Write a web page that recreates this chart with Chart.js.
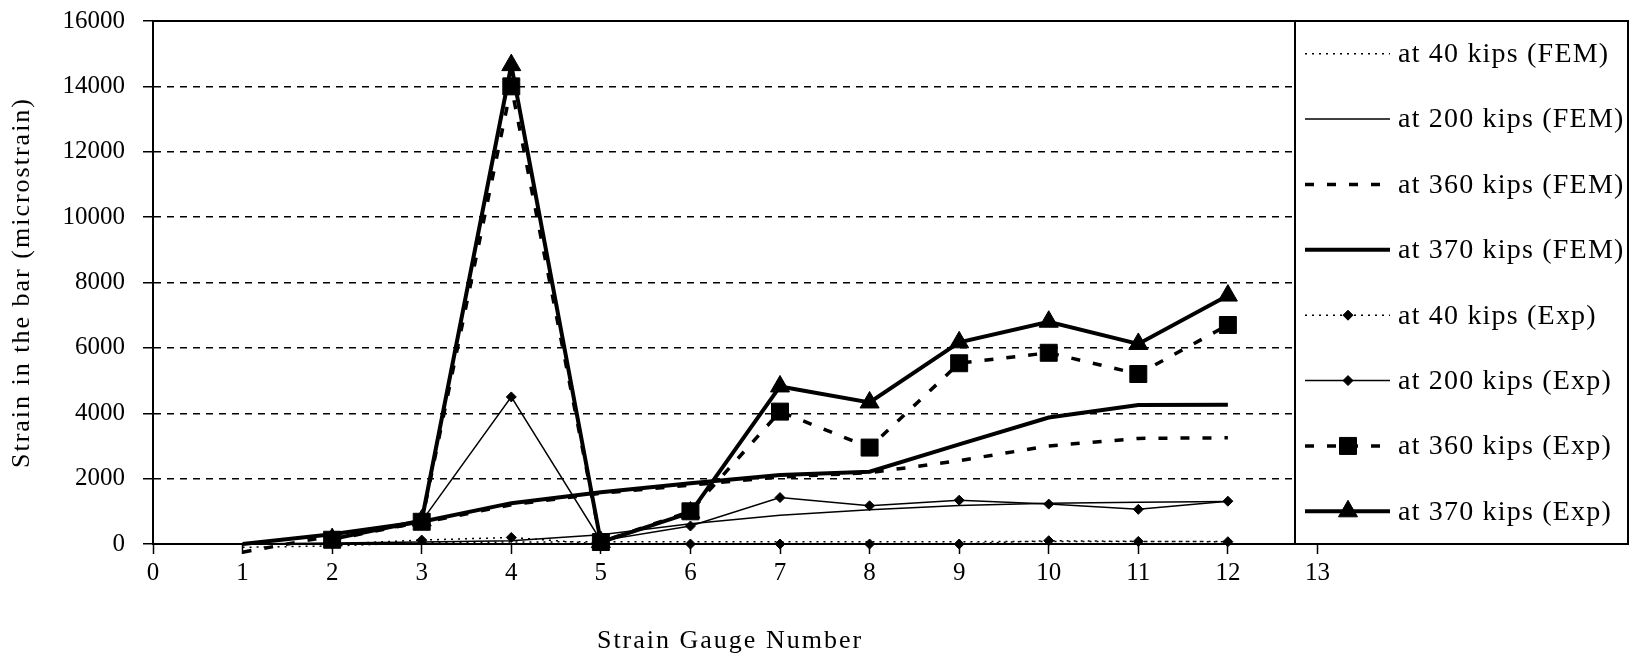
<!DOCTYPE html>
<html lang="en">
<head>
<meta charset="UTF-8">
<title>Strain in the bar</title>
<script src="https://cdn.jsdelivr.net/npm/chart.js"></script>
<style>
    body {
        margin: 0;
        background-color: #ffffff;
    }

    #chart-wrap {
        position: relative;
        width: 1635px;
        height: 657px;
    }
</style>
</head>
<body>
<div id="chart-wrap">
    <canvas id="strainChart"></canvas>
</div>

<script>
// gauge numbers (FEM has gauge 1, the test data starts at gauge 2)
const gaugesFem = [1, 2, 3, 4, 5, 6, 7, 8, 9, 10, 11, 12];
const gaugesExp = [2, 3, 4, 5, 6, 7, 8, 9, 10, 11, 12];

// strain in microstrain
const fem40  = [-100, -60, 40, 60, 70, 70, 70, 70, 70, 80, 80, 80];
const fem200 = [0, 30, 60, 100, 280, 620, 880, 1050, 1180, 1250, 1280, 1300];
const fem360 = [-250, 250, 650, 1200, 1550, 1800, 2050, 2180, 2550, 3000, 3230, 3250];
const fem370 = [0, 300, 680, 1250, 1580, 1860, 2110, 2210, 3050, 3870, 4250, 4260];

const exp40  = [0, 120, 200, 0, 0, 0, 0, 0, 100, 80, 70];
const exp200 = [150, 700, 4500, 100, 550, 1420, 1170, 1340, 1220, 1060, 1310];
const exp360 = [130, 680, 14000, 60, 1000, 4050, 2950, 5530, 5850, 5200, 6700];
const exp370 = [150, 720, 14650, 60, 960, 4820, 4330, 6170, 6800, 6120, 7600];

const seriesLabels = [
    'at 40 kips (FEM)', 'at 200 kips (FEM)', 'at 360 kips (FEM)', 'at 370 kips (FEM)',
    'at 40 kips (Exp)', 'at 200 kips (Exp)', 'at 360 kips (Exp)', 'at 370 kips (Exp)'
];

const xTickLabels = [0, 1, 2, 3, 4, 5, 6, 7, 8, 9, 10, 11, 12, 13];
const yTickValues = [0, 2000, 4000, 6000, 8000, 10000, 12000, 14000, 16000];

const xTitle = 'Strain Gauge Number';
const yTitle = 'Strain in the bar (microstrain)';

function pts(xs, ys) {
    return xs.map((x, i) => ({ x: x, y: ys[i] }));
}

function line(label, xs, ys, width, dash, style, radius) {
    return {
        label: label,
        data: pts(xs, ys),
        borderColor: '#000',
        backgroundColor: '#000',
        borderWidth: width,
        borderDash: dash,
        pointStyle: style || 'circle',
        pointRadius: radius || 0,
        pointBackgroundColor: '#000',
        pointBorderColor: '#000',
        pointBorderWidth: 1,
        tension: 0,
        clip: 12
    };
}

const serif = "'Liberation Serif', 'Times New Roman', serif";

// frame line on top, axis titles and the boxed legend on the right
const decorations = {
    id: 'decorations',
    beforeDatasetsDraw(chart) {
        const ctx = chart.ctx;
        const a = chart.chartArea;
        ctx.save();
        ctx.strokeStyle = '#000';
        ctx.lineWidth = 2;
        ctx.beginPath();
        ctx.moveTo(a.left, a.top);
        ctx.lineTo(a.right, a.top);
        ctx.stroke();
        ctx.restore();
    },
    afterDraw(chart) {
        const ctx = chart.ctx;
        const a = chart.chartArea;
        ctx.save();
        ctx.fillStyle = '#000';
        ctx.font = '26px ' + serif;
        ctx.letterSpacing = '2px';
        ctx.textAlign = 'center';
        ctx.textBaseline = 'middle';
        ctx.fillText(xTitle, 730, 641);

        ctx.save();
        ctx.translate(22, (a.top + a.bottom) / 2);
        ctx.rotate(-Math.PI / 2);
        ctx.fillText(yTitle, 0, 0);
        ctx.restore();

        // legend box
        const x0 = 1295, x1 = 1628;
        const y0 = a.top, y1 = a.bottom;
        ctx.fillStyle = '#fff';
        ctx.fillRect(x0, y0, x1 - x0, y1 - y0);
        ctx.strokeStyle = '#000';
        ctx.lineWidth = 2;
        ctx.strokeRect(x0, y0, x1 - x0, y1 - y0);

        const sets = chart.data.datasets;
        const step = (y1 - y0) / sets.length;
        ctx.textAlign = 'left';
        ctx.font = '28px ' + serif;
        ctx.letterSpacing = '1.2px';
        sets.forEach((ds, i) => {
            const cy = y0 + step * (i + 0.5);
            ctx.strokeStyle = '#000';
            ctx.fillStyle = '#000';
            ctx.lineWidth = ds.borderWidth;
            ctx.setLineDash(ds.borderDash || []);
            ctx.beginPath();
            ctx.moveTo(1305, cy);
            ctx.lineTo(1390, cy);
            ctx.stroke();
            ctx.setLineDash([]);
            if (ds.pointRadius > 0) {
                ctx.lineWidth = 1;
                Chart.helpers.drawPoint(ctx, {
                    pointStyle: ds.pointStyle,
                    radius: ds.pointRadius,
                    borderWidth: 1,
                    rotation: 0
                }, 1348, cy);
            }
            ctx.fillStyle = '#000';
            ctx.fillText(ds.label, 1398, cy + 1);
        });
        ctx.restore();
    }
};

const ctx = document.getElementById('strainChart').getContext('2d');
new Chart(ctx, {
    type: 'line',
    data: {
        datasets: [
            line(seriesLabels[0], gaugesFem, fem40, 1.5, [2, 5]),
            line(seriesLabels[1], gaugesFem, fem200, 1.5, []),
            line(seriesLabels[2], gaugesFem, fem360, 3.5, [9, 13]),
            line(seriesLabels[3], gaugesFem, fem370, 4, []),
            line(seriesLabels[4], gaugesExp, exp40, 1.5, [2, 5], 'rectRot', 5),
            line(seriesLabels[5], gaugesExp, exp200, 1.5, [], 'rectRot', 5),
            line(seriesLabels[6], gaugesExp, exp360, 3.5, [9, 13], 'rect', 12),
            line(seriesLabels[7], gaugesExp, exp370, 4, [], 'triangle', 11)
        ]
    },
    options: {
        responsive: true,
        maintainAspectRatio: false,
        animation: false,
        devicePixelRatio: 1,
        layout: { padding: { top: 21, right: 5, left: 0, bottom: 0 } },
        plugins: {
            legend: { display: false },
            tooltip: { enabled: false }
        },
        scales: {
            x: {
                type: 'linear',
                min: 0,
                max: 16.4,
                afterBuildTicks: s => { s.ticks = xTickLabels.map(v => ({ value: v })); },
                afterFit: s => { s.height = 113; },
                grid: {
                    drawOnChartArea: false,
                    tickLength: 10,
                    tickColor: '#000',
                    tickWidth: 1.5
                },
                border: { color: '#000', width: 2 },
                ticks: {
                    color: '#000',
                    font: { family: serif, size: 25 },
                    padding: 4,
                    maxRotation: 0,
                    autoSkip: false
                }
            },
            y: {
                min: 0,
                max: 16000,
                afterBuildTicks: s => { s.ticks = yTickValues.map(v => ({ value: v })); },
                afterFit: s => {
                    s.width = 153;
                    s.paddingTop = 0;
                    s.paddingBottom = 0;
                },
                grid: {
                    color: c => (c.tick && (c.tick.value === 0 || c.tick.value === 16000)) ? 'rgba(0,0,0,0)' : '#000',
                    lineWidth: 1.5,
                    tickColor: '#000',
                    tickLength: 10,
                    tickWidth: 1.5,
                    tickBorderDash: [1, 0]
                },
                border: { color: '#000', width: 2, dash: [7, 6] },
                ticks: {
                    color: '#000',
                    font: { family: serif, size: 25 },
                    padding: 18,
                    callback: v => String(v)
                }
            }
        }
    },
    plugins: [decorations]
});
</script>
</body>
</html>
